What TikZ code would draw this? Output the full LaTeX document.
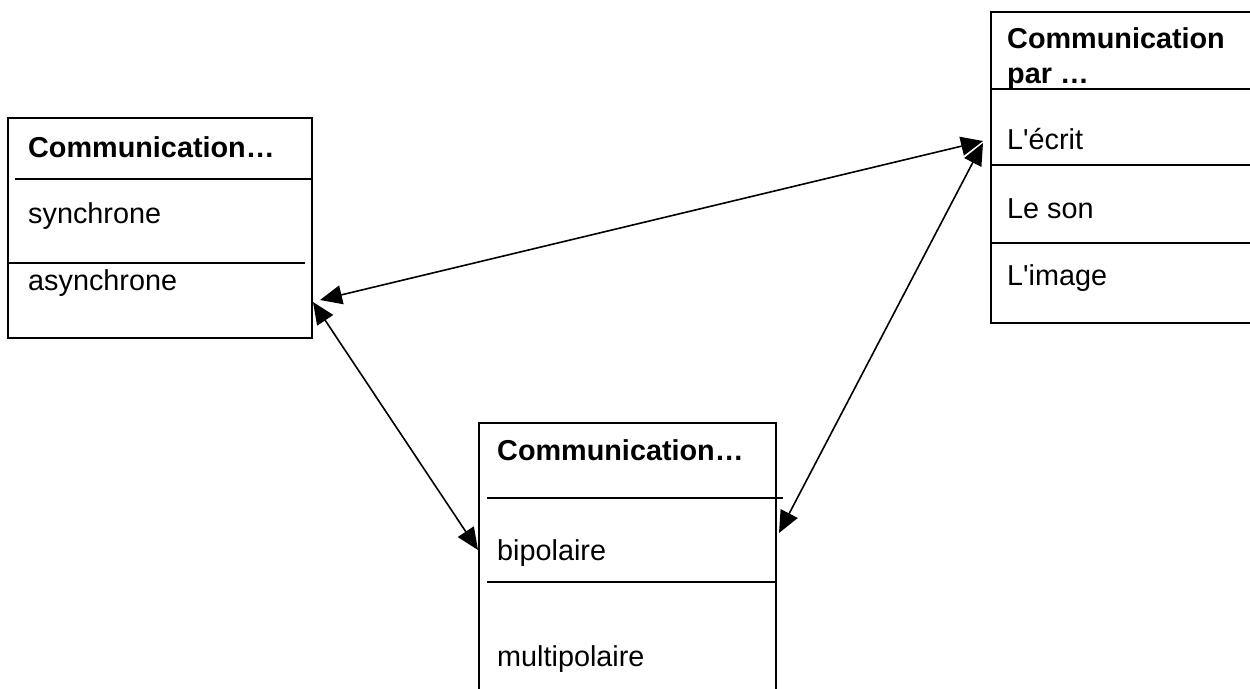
\documentclass[tikz,border=0pt]{standalone}
\usepackage{fontspec}
\setmainfont{Liberation Sans}[Ligatures=TeXOff]
\usetikzlibrary{arrows.meta}
\begin{document}
\begin{tikzpicture}[x=1pt,y=-1pt,
  boxline/.style={line width=1.7pt},
  sepline/.style={line width=1.6pt},
  lbl/.style={anchor=base west,inner sep=0pt,font=\fontsize{28.8}{34}\selectfont},
  ttl/.style={lbl,font=\fontsize{28.8}{35}\selectfont\bfseries,align=left},
  link/.style={line width=1.6pt,{Triangle[length=22pt,width=19pt]}-{Triangle[length=22pt,width=19pt]}}]
\useasboundingbox (0,0) rectangle (1250,688);
\clip (0,0) rectangle (1250,688);
% left box
\draw[boxline] (8,118) rectangle (312,338);
\node[ttl] (lt) at (28,157) {Communication…};
\draw[sepline] (15,179) -- (312,179);
\node[lbl] (ls) at (28,223) {synchrone};
\draw[sepline] (7,263) -- (305,263);
\node[lbl] (la) at (28,290) {asynchrone};
% right box
\draw[boxline] (991,12) rectangle (1262,323);
\node[ttl] (rt1) at (1007,48) {Communication};
\node[ttl] (rt2) at (1007,83) {par …};
\draw[sepline] (991,89) -- (1250,89);
\node[lbl] (re) at (1007,149) {L'écrit};
\draw[sepline] (991,165) -- (1250,165);
\node[lbl] (rs) at (1007,218) {Le son};
\draw[sepline] (991,243) -- (1250,243);
\node[lbl] (ri) at (1007,285) {L'image};
% bottom box
\draw[boxline] (479,423) rectangle (776,700);
\node[ttl] (bt) at (497,460) {Communication…};
\draw[sepline] (487,498) -- (783,498);
\node[lbl] (bb) at (497,560) {bipolaire};
\draw[sepline] (487,582) -- (776,582);
\node[lbl] (bm) at (497,666) {multipolaire};
% connector ends
\coordinate (la1) at (320,300);
\coordinate (ra1) at (983,141);
\coordinate (la2) at (313,302);
\coordinate (bl2) at (478,550);
\coordinate (br3) at (779,533);
\coordinate (ra3) at (983,143);
\draw[link] (la1) -- (ra1);
\draw[link] (la2) -- (bl2);
\draw[link] (br3) -- (ra3);
\end{tikzpicture}
\end{document}
